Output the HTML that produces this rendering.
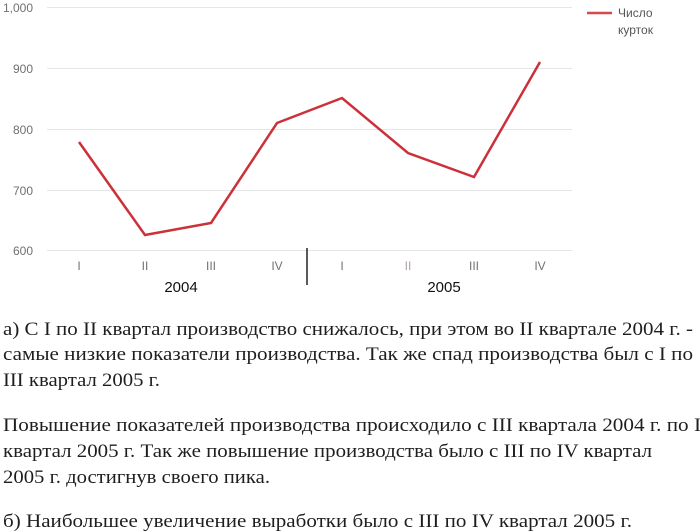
<!DOCTYPE html>
<html><head><meta charset="utf-8"><style>
html,body{margin:0;padding:0;background:#fff;}
svg{display:block;}
</style></head><body>
<svg width="700" height="532" viewBox="0 0 700 532" xmlns="http://www.w3.org/2000/svg">
<rect width="700" height="532" fill="#fff"/>
<g stroke="#e6e6e6" stroke-width="1">
<line x1="47" y1="7.5" x2="572" y2="7.5"/>
<line x1="47" y1="68.5" x2="572" y2="68.5"/>
<line x1="47" y1="129.5" x2="572" y2="129.5"/>
<line x1="47" y1="190.5" x2="572" y2="190.5"/>
<line x1="47" y1="250.5" x2="572" y2="250.5"/>
</g>
<g font-family="Liberation Sans, sans-serif" font-size="12" fill="#707070" text-anchor="end">
<text x="33" y="12">1,000</text>
<text x="33" y="73">900</text>
<text x="33" y="134">800</text>
<text x="33" y="195">700</text>
<text x="33" y="255">600</text>
</g>
<g font-family="Liberation Sans, sans-serif" font-size="12" fill="#707070" text-anchor="middle">
<text x="79" y="270">I</text>
<text x="145" y="270">II</text>
<text x="211" y="270">III</text>
<text x="277" y="270">IV</text>
<text x="342" y="270">I</text>
<text x="408" y="270" fill="#b0a0a8">II</text>
<text x="474" y="270">III</text>
<text x="540" y="270">IV</text>
</g>
<g font-family="Liberation Sans, sans-serif" font-size="15" fill="#111" text-anchor="middle">
<text x="181" y="292">2004</text>
<text x="444" y="292">2005</text>
</g>
<line x1="307" y1="248" x2="307" y2="285" stroke="#222" stroke-width="1.5"/>
<polyline points="79,142 145,235 211,223 277,123 342,98 408,153 474,177 540,62" fill="none" stroke="#cc3038" stroke-width="2.5" stroke-linejoin="miter"/>
<line x1="587" y1="13" x2="612" y2="13" stroke="#d84a4a" stroke-width="2.5"/>
<g font-family="Liberation Sans, sans-serif" font-size="12" fill="#555">
<text x="618" y="17">Число</text>
<text x="618" y="34">курток</text>
</g>
<g font-family="Liberation Serif, serif" font-size="19" fill="#1e1e1e" lengthAdjust="spacingAndGlyphs">
<text x="3" y="335" textLength="690" lengthAdjust="spacingAndGlyphs">а)  С I по II квартал производство снижалось, при этом во II квартале 2004 г. -</text>
<text x="3" y="360" textLength="690" lengthAdjust="spacingAndGlyphs">самые низкие показатели производства. Так же спад производства был с I по</text>
<text x="3" y="386" textLength="157" lengthAdjust="spacingAndGlyphs">III квартал 2005 г.</text>
<text x="3" y="431" textLength="698" lengthAdjust="spacingAndGlyphs">Повышение показателей производства происходило с III квартала 2004 г. по I</text>
<text x="3" y="457" textLength="649" lengthAdjust="spacingAndGlyphs">квартал 2005 г. Так же повышение производства было с III по IV квартал</text>
<text x="3" y="483" textLength="267" lengthAdjust="spacingAndGlyphs">2005 г. достигнув своего пика.</text>
<text x="3" y="527" textLength="629" lengthAdjust="spacingAndGlyphs">б) Наибольшее  увеличение выработки было с III по IV квартал 2005 г.</text>
</g>
</svg>
</body></html>
